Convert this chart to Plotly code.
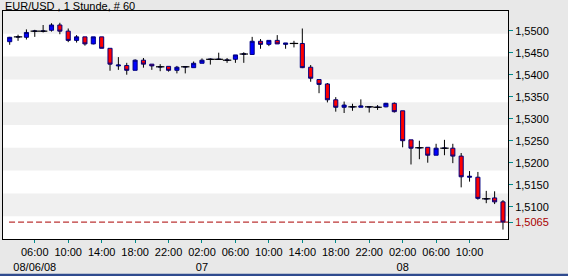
import pandas as pd
import plotly.graph_objects as go

# ---- data -------------------------------------------------------------
start_time = "2008-08-06 03:00"
n_bars = 60

opens = [1.5475, 1.5486, 1.5485, 1.5499, 1.5499, 1.5501, 1.5513, 1.5499, 1.5478, 1.5486,
         1.5470, 1.5486, 1.5460, 1.5420, 1.5421, 1.5410, 1.5433, 1.5424, 1.5418, 1.5419,
         1.5410, 1.5418, 1.5416, 1.5426, 1.5435, 1.5435, 1.5433, 1.5435, 1.5447, 1.5446,
         1.5476, 1.5469, 1.5478, 1.5469, 1.5471, 1.5471, 1.5417, 1.5389, 1.5379, 1.5343,
         1.5326, 1.5327, 1.5326, 1.5327, 1.5326, 1.5327, 1.5335, 1.5318, 1.5252, 1.5234,
         1.5235, 1.5217, 1.5233, 1.5233, 1.5215, 1.5167, 1.5167, 1.5118, 1.5120, 1.5111]
highs = [1.5486, 1.5491, 1.5503, 1.5502, 1.5513, 1.5517, 1.5518, 1.5505, 1.5490, 1.5486,
         1.5486, 1.5486, 1.5460, 1.5440, 1.5427, 1.5435, 1.5438, 1.5424, 1.5424, 1.5419,
         1.5420, 1.5418, 1.5430, 1.5437, 1.5437, 1.5450, 1.5438, 1.5445, 1.5451, 1.5486,
         1.5481, 1.5478, 1.5490, 1.5472, 1.5477, 1.5505, 1.5422, 1.5389, 1.5381, 1.5349,
         1.5339, 1.5334, 1.5344, 1.5327, 1.5331, 1.5336, 1.5337, 1.5318, 1.5252, 1.5250,
         1.5235, 1.5243, 1.5252, 1.5243, 1.5222, 1.5181, 1.5179, 1.5136, 1.5135, 1.5115]
lows = [1.5468, 1.5477, 1.5480, 1.5486, 1.5496, 1.5498, 1.5492, 1.5474, 1.5473, 1.5466,
        1.5469, 1.5460, 1.5409, 1.5411, 1.5400, 1.5410, 1.5416, 1.5411, 1.5408, 1.5407,
        1.5403, 1.5403, 1.5416, 1.5426, 1.5423, 1.5435, 1.5427, 1.5427, 1.5427, 1.5446,
        1.5459, 1.5465, 1.5470, 1.5459, 1.5462, 1.5415, 1.5384, 1.5358, 1.5337, 1.5316,
        1.5313, 1.5318, 1.5326, 1.5314, 1.5320, 1.5326, 1.5314, 1.5235, 1.5196, 1.5208,
        1.5200, 1.5217, 1.5217, 1.5199, 1.5144, 1.5157, 1.5116, 1.5108, 1.5106, 1.5048]
closes = [1.5485, 1.5486, 1.5496, 1.5499, 1.5499, 1.5513, 1.5499, 1.5478, 1.5486, 1.5470,
          1.5486, 1.5460, 1.5424, 1.5422, 1.5410, 1.5433, 1.5424, 1.5420, 1.5418, 1.5410,
          1.5417, 1.5418, 1.5426, 1.5433, 1.5435, 1.5435, 1.5433, 1.5445, 1.5447, 1.5476,
          1.5469, 1.5478, 1.5470, 1.5472, 1.5471, 1.5416, 1.5392, 1.5378, 1.5343, 1.5326,
          1.5331, 1.5327, 1.5329, 1.5327, 1.5326, 1.5335, 1.5316, 1.5250, 1.5233, 1.5234,
          1.5217, 1.5233, 1.5233, 1.5215, 1.5168, 1.5169, 1.5119, 1.5118, 1.5111, 1.5065]

x_tick_times = ["2008-08-06 06:00", "2008-08-06 10:00", "2008-08-06 14:00", "2008-08-06 18:00",
                "2008-08-06 22:00", "2008-08-07 02:00", "2008-08-07 06:00", "2008-08-07 10:00",
                "2008-08-07 14:00", "2008-08-07 18:00", "2008-08-07 22:00", "2008-08-08 02:00",
                "2008-08-08 06:00", "2008-08-08 10:00"]
x_tick_labels = ["06:00<br>08/06/08", "10:00", "14:00", "18:00", "22:00", "02:00<br>07",
                 "06:00", "10:00", "14:00", "18:00", "22:00", "02:00<br>08", "06:00", "10:00"]
y_tick_values = [1.5100, 1.5150, 1.5200, 1.5250, 1.5300, 1.5350, 1.5400, 1.5450, 1.5500]

title_text = "EUR/USD , 1 Stunde, # 60"
x_range = ["2008-08-06 02:12", "2008-08-08 14:36"]
y_range = [1.50266, 1.55448]

# ---- derived ----------------------------------------------------------
times = pd.date_range(start_time, periods=n_bars, freq="h")
body_hi = [max(o, c) for o, c in zip(opens, closes)]
body_lo = [min(o, c) for o, c in zip(opens, closes)]

wx, wy = [], []
for t, h, l, bh, bl in zip(times, highs, lows, body_hi, body_lo):
    wx += [t, t, None, t, t, None]
    wy += [l, bl, None, bh, h, None]

doji_x = [t for t, o, c in zip(times, opens, closes) if o == c]
doji_y = [o for o, c in zip(opens, closes) if o == c]

last_close = closes[-1]

def fmt(v):
    return f"{v:.4f}".replace(".", ",")

ytv = y_tick_values + [last_close]
ytt = [fmt(v) for v in y_tick_values] + [f"<span style='color:#aa0000'>{fmt(last_close)}</span>"]

FONT = "Liberation Sans, Arial, sans-serif"

fig = go.Figure()
fig.add_trace(go.Candlestick(
    x=times, open=opens, high=body_hi, low=body_lo, close=closes,
    increasing=dict(fillcolor="#0000ff", line=dict(color="#000080", width=1)),
    decreasing=dict(fillcolor="#ff0000", line=dict(color="#000080", width=1)),
    whiskerwidth=0, showlegend=False, hoverinfo="skip",
))
fig.add_trace(go.Scatter(x=wx, y=wy, mode="lines", line=dict(color="black", width=1),
                         showlegend=False, hoverinfo="skip"))
fig.add_trace(go.Scatter(x=doji_x, y=doji_y, mode="markers",
                         marker=dict(symbol="line-ew", size=6, line=dict(color="black", width=1.2)),
                         showlegend=False, hoverinfo="skip"))

shapes = []
for k in range(10):
    if k % 2 == 0:
        shapes.append(dict(type="rect", xref="paper", yref="paper", x0=0, x1=1,
                           y0=1 - (k + 1) / 10, y1=1 - k / 10, fillcolor="#f0f0f0",
                           line=dict(width=0), layer="below"))
# white strip at the far right, navy line at the bottom
shapes.append(dict(type="rect", xref="paper", yref="paper", x0=1.1188, x1=1.3, y0=-0.3, y1=1.2,
                   fillcolor="white", line=dict(width=0), layer="above"))
shapes.append(dict(type="rect", xref="paper", yref="paper", x0=-0.05, x1=1.1188, y0=-0.2, y1=-0.152,
                   fillcolor="#2f4b8f", line=dict(width=0), layer="above"))
shapes.append(dict(type="line", xref="paper", yref="y", x0=0.012, x1=1, y0=last_close, y1=last_close,
                   line=dict(color="#aa0000", width=1, dash="6px,3px"), layer="above"))

fig.update_layout(
    width=574, height=276,
    margin=dict(l=3, r=66, t=11, b=37, pad=0),
    paper_bgcolor="#e8e8e8", plot_bgcolor="white",
    font=dict(family=FONT, size=11, color="black"),
    shapes=shapes,
    annotations=[dict(text=title_text, xref="paper", yref="paper", x=0, y=1,
                      xanchor="left", yanchor="bottom", showarrow=False,
                      font=dict(size=11, family=FONT, color="black"), yshift=-3)],
    xaxis=dict(type="date", range=x_range, rangeslider=dict(visible=False),
               showgrid=False, zeroline=False, showline=True, linecolor="black", linewidth=1,
               mirror=True, ticks="outside", ticklen=3, tickcolor="#008b8b",
               tickvals=x_tick_times, ticktext=x_tick_labels, tickangle=0, automargin=False,
               tickfont=dict(size=11, family=FONT, color="black")),
    yaxis=dict(side="right", range=y_range, showgrid=False, zeroline=False,
               showline=True, linecolor="black", linewidth=1, mirror=True,
               ticks="outside", ticklen=4, tickcolor="#008b8b", automargin=False,
               tickvals=ytv, ticktext=ytt,
               tickfont=dict(size=11, family=FONT, color="black")),
)

fig.write_html("out.html")
